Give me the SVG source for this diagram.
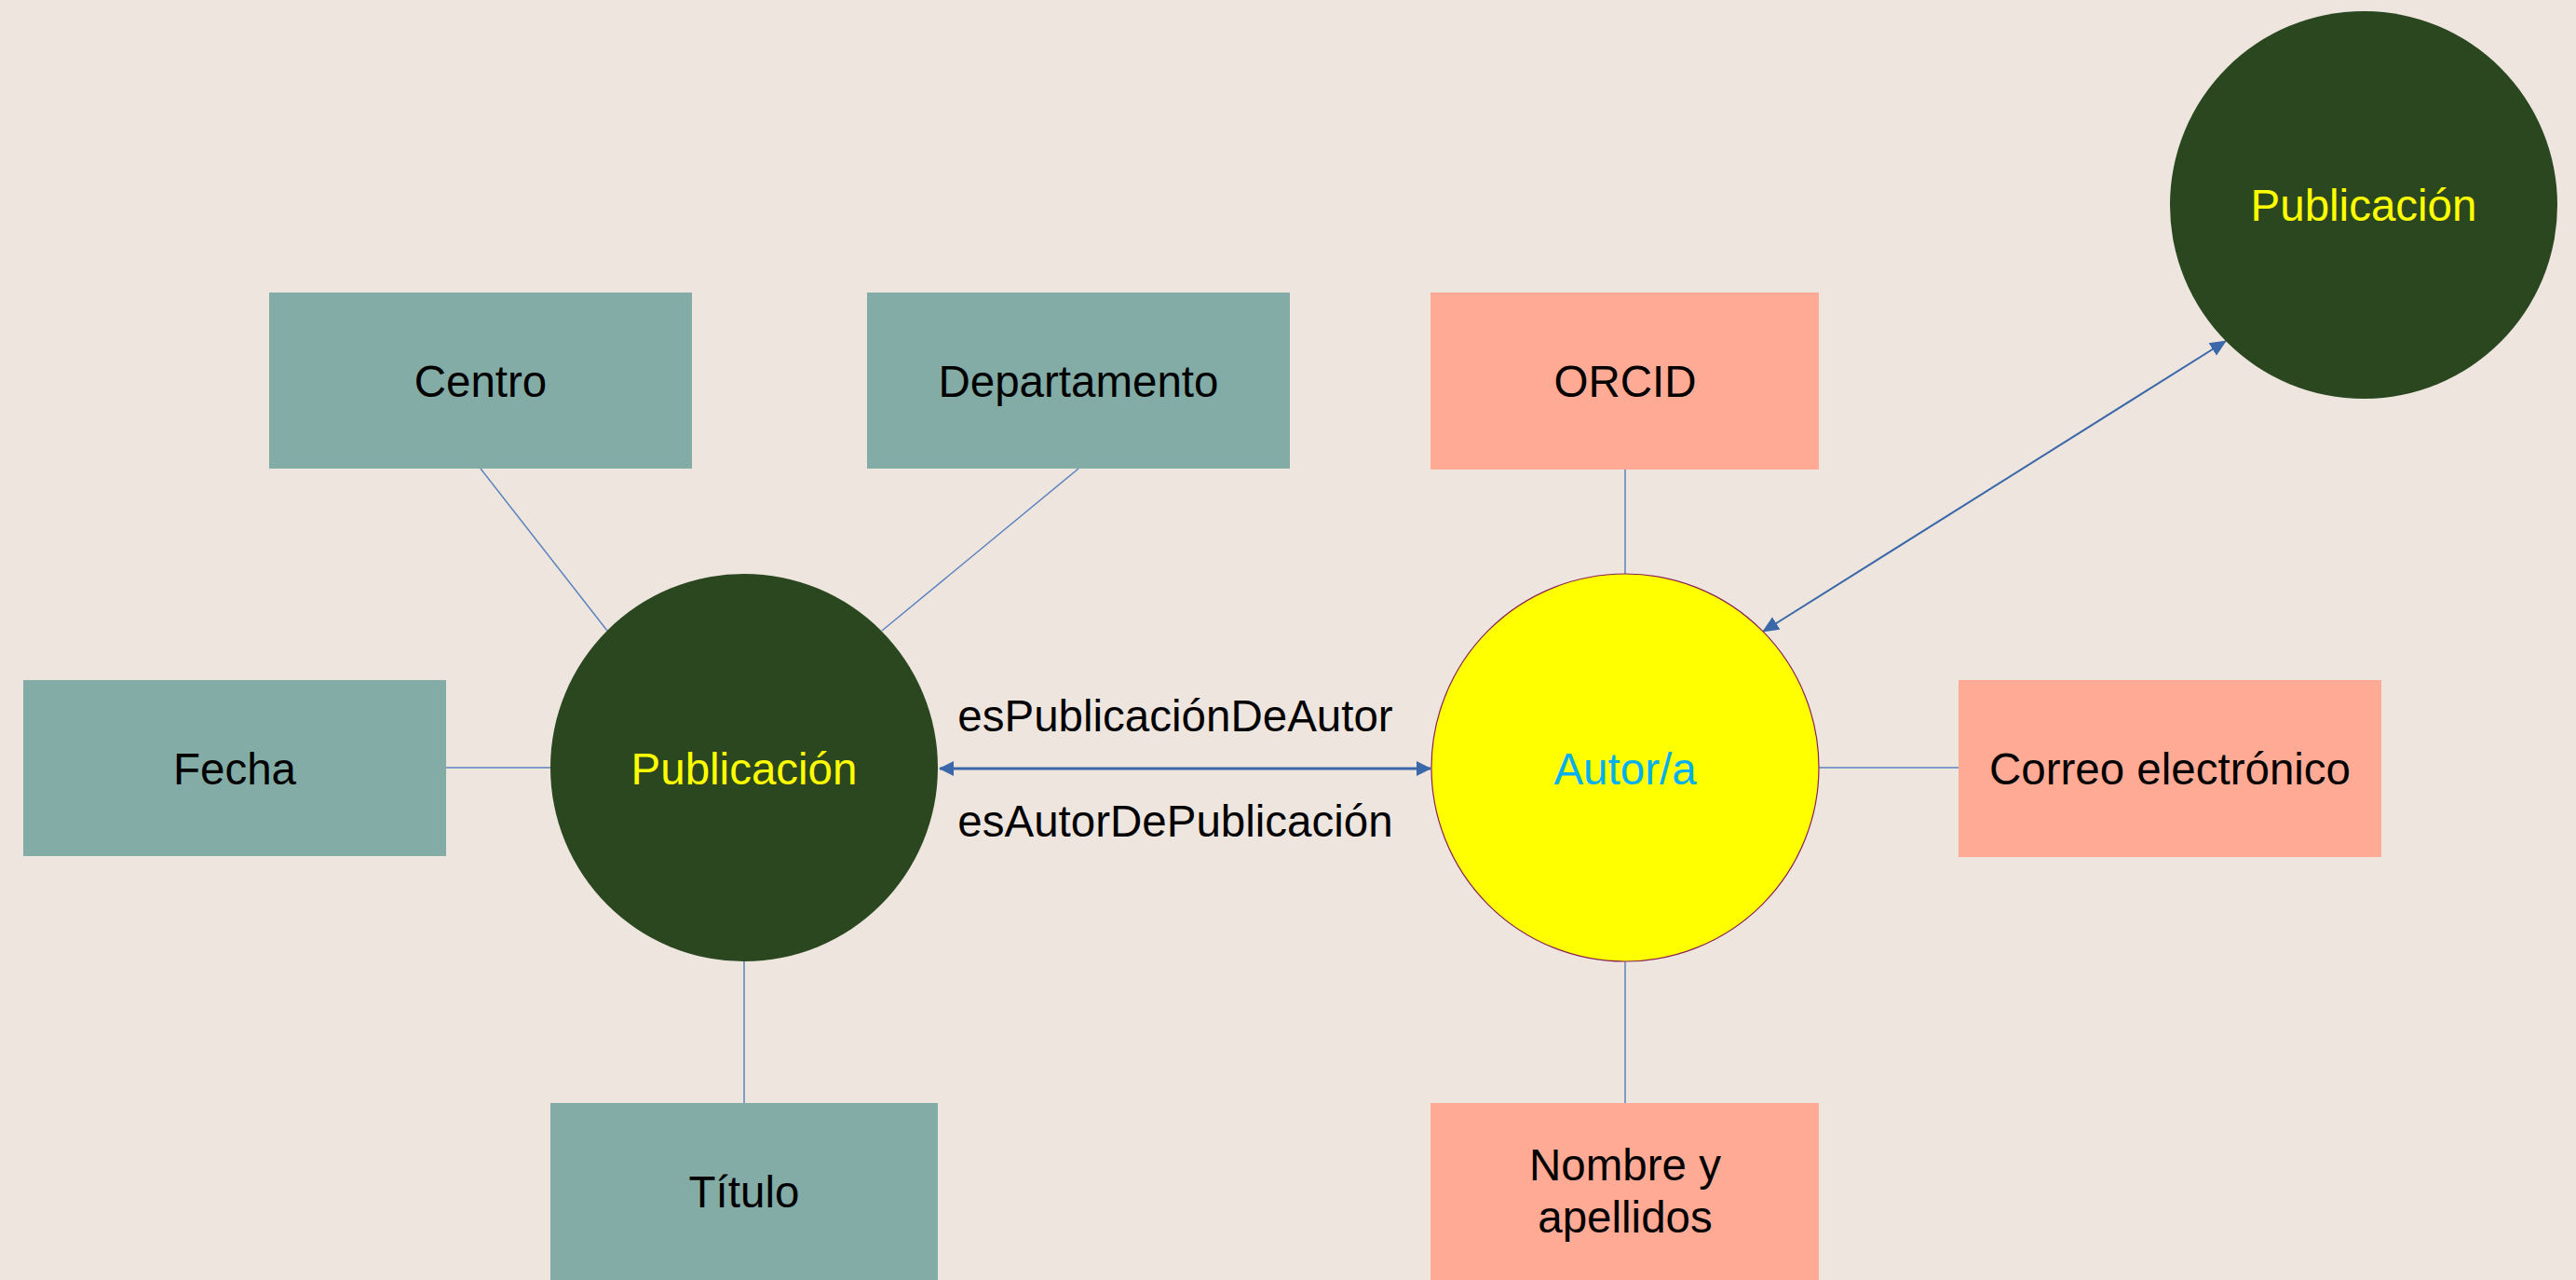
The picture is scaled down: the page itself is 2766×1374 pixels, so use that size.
<svg xmlns="http://www.w3.org/2000/svg" width="2766" height="1374" viewBox="0 0 2766 1374">
<style>
text{font-family:"Liberation Sans",Arial,sans-serif;font-size:47.5px;text-anchor:middle}
.lbl{fill:#000}
.teal{fill:#82ACA5}
.salmon{fill:#FFAA94}
.pub{fill:#2A4720}
.pubt{fill:#FFFF00}
.thin{stroke:#5C83BE;stroke-width:1.5;fill:none}
.arr{stroke:#3A68A8;fill:none}
</style>
<defs>
<marker id="ah" viewBox="0 0 16 16" markerWidth="16" markerHeight="16" refX="15" refY="8" orient="auto-start-reverse" markerUnits="userSpaceOnUse">
<path d="M0,0 L16,8 L0,16 z" fill="#3A68A8"/>
</marker>
<marker id="ah2" viewBox="0 0 16 16" markerWidth="18" markerHeight="18" refX="15" refY="8" orient="auto-start-reverse" markerUnits="userSpaceOnUse">
<path d="M0,1 L16,8 L0,15 z" fill="#3A68A8"/>
</marker>
</defs>
<rect width="2766" height="1374" fill="#EEE5DF"/>
<g id="connectors">
<line class="thin" x1="516" y1="503" x2="652" y2="677"/>
<line class="thin" x1="1158" y1="503" x2="947" y2="677"/>
<line class="thin" x1="479" y1="824" x2="591" y2="824"/>
<line class="thin" x1="799" y1="1032" x2="799" y2="1184"/>
<line class="thin" x1="1745" y1="504" x2="1745" y2="617"/>
<line class="thin" x1="1953" y1="824" x2="2103" y2="824"/>
<line class="thin" x1="1745" y1="1032" x2="1745" y2="1184"/>
<line class="arr" stroke-width="3" x1="1009" y1="825" x2="1536" y2="825" marker-start="url(#ah)" marker-end="url(#ah)"/>
<line class="arr" stroke-width="2" x1="1893" y1="678" x2="2390" y2="366" marker-start="url(#ah2)" marker-end="url(#ah2)"/>
<text class="lbl" x="1262" y="785">esPublicaciónDeAutor</text>
<text class="lbl" x="1262" y="898">esAutorDePublicación</text>
</g>
<g id="centro">
<rect class="teal" x="289" y="314" width="454" height="189"/>
<text class="lbl" x="516" y="426">Centro</text>
</g>
<g id="departamento">
<rect class="teal" x="931" y="314" width="454" height="189"/>
<text class="lbl" x="1158" y="426">Departamento</text>
</g>
<g id="fecha">
<rect class="teal" x="25" y="730" width="454" height="189"/>
<text class="lbl" x="252" y="842">Fecha</text>
</g>
<g id="titulo">
<rect class="teal" x="591" y="1184" width="416" height="190"/>
<text class="lbl" x="799" y="1296">Título</text>
</g>
<g id="publicacion">
<circle class="pub" cx="799" cy="824" r="208"/>
<text class="pubt" x="799" y="842">Publicación</text>
</g>
<g id="autor">
<circle cx="1745" cy="824" r="208" fill="#FFFF00" stroke="#8B2252" stroke-width="1.2"/>
<text x="1745" y="842" fill="#00B0F0">Autor/a</text>
</g>
<g id="orcid">
<rect class="salmon" x="1536" y="314" width="417" height="190"/>
<text class="lbl" x="1745" y="426">ORCID</text>
</g>
<g id="correo">
<rect class="salmon" x="2103" y="730" width="454" height="190"/>
<text class="lbl" x="2330" y="842">Correo electrónico</text>
</g>
<g id="nombre">
<rect class="salmon" x="1536" y="1184" width="417" height="190"/>
<text class="lbl" x="1745" y="1267">Nombre y</text>
<text class="lbl" x="1745" y="1323">apellidos</text>
</g>
<g id="publicacion2">
<circle class="pub" cx="2538" cy="220" r="208"/>
<text class="pubt" x="2538" y="237">Publicación</text>
</g>
</svg>
